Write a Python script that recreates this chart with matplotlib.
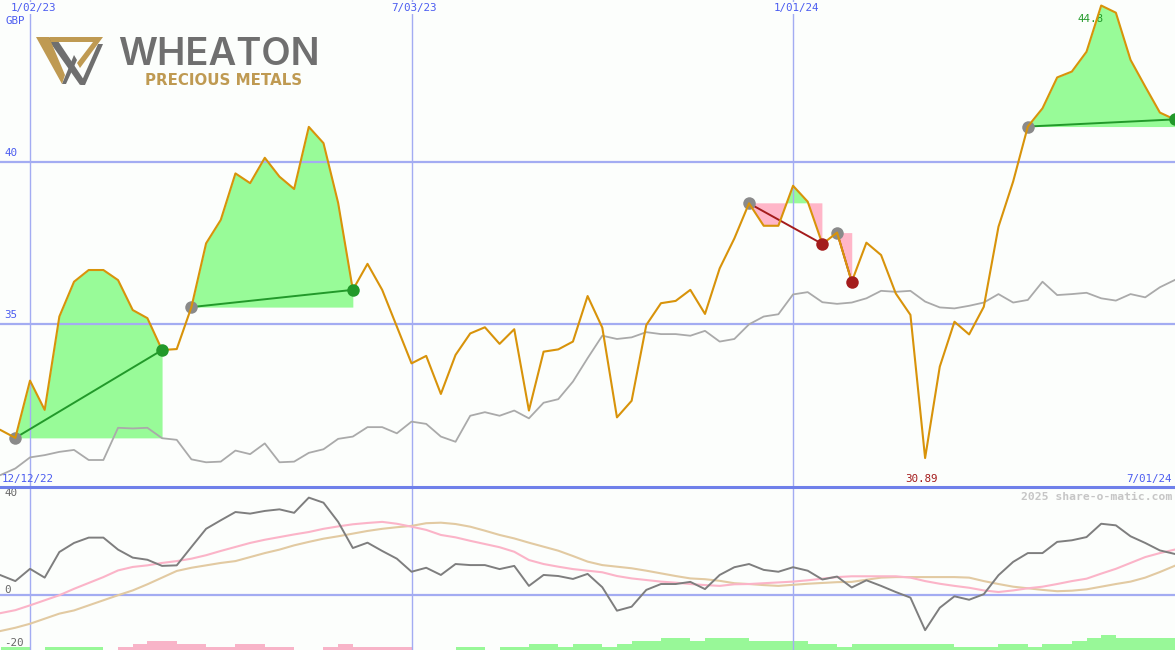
import numpy as np
import matplotlib.pyplot as plt
from matplotlib.patches import Polygon
from matplotlib.transforms import Affine2D

# -----------------------------------------------------------------------------
# data (weekly, week 0 = 1/02/23)
# -----------------------------------------------------------------------------
weeks = np.arange(-2, 79)

price = [31.75, 31.51, 33.27, 32.37, 35.24, 36.31, 36.67, 36.67, 36.36, 35.44,
         35.19, 34.21, 34.24, 35.53, 37.49, 38.21, 39.64, 39.34, 40.12, 39.54,
         39.16, 41.07, 40.57, 38.73, 36.06, 36.86, 36.06, 34.93, 33.80, 34.03,
         32.86, 34.06, 34.72, 34.91, 34.40, 34.85, 32.35, 34.16, 34.23, 34.47,
         35.87, 34.90, 32.14, 32.65, 34.98, 35.65, 35.72, 36.06, 35.32, 36.72,
         37.64, 38.72, 38.03, 38.03, 39.26, 38.77, 37.47, 37.82, 36.31, 37.51,
         37.13, 35.95, 35.29, 30.89, 33.70, 35.08, 34.69, 35.54, 38.00, 39.39,
         41.08, 41.64, 42.59, 42.77, 43.38, 44.80, 44.58, 43.13, 42.31, 41.51,
         41.30]

avg = [30.37, 30.57, 30.91, 30.98, 31.08, 31.14, 30.83, 30.83, 31.82, 31.80,
       31.82, 31.50, 31.45, 30.85, 30.76, 30.78, 31.12, 31.01, 31.34, 30.76,
       30.78, 31.05, 31.16, 31.48, 31.55, 31.84, 31.84, 31.65, 32.01, 31.94,
       31.55, 31.39, 32.19, 32.30, 32.19, 32.35, 32.11, 32.59, 32.70, 33.24,
       33.96, 34.65, 34.55, 34.60, 34.76, 34.70, 34.70, 34.65, 34.80, 34.47,
       34.55, 35.00, 35.24, 35.31, 35.92, 35.99, 35.68, 35.63, 35.67, 35.80,
       36.03, 36.00, 36.03, 35.70, 35.52, 35.49, 35.57, 35.67, 35.93, 35.67,
       35.75, 36.31, 35.90, 35.93, 35.97, 35.80, 35.73, 35.93, 35.83, 36.14,
       36.36]

momentum = [7.3, 5.1, 9.7, 6.4, 16.0, 19.4, 21.4, 21.4, 16.9, 13.9,
            13.1, 10.8, 11.0, 17.9, 24.7, 27.9, 31.0, 30.4, 31.4, 32.0,
            30.7, 36.4, 34.5, 27.3, 17.5, 19.5, 16.4, 13.5, 8.6, 10.1,
            7.4, 11.5, 11.1, 11.1, 9.6, 10.8, 3.3, 7.4, 7.0, 5.9,
            7.8, 2.8, -6.0, -4.5, 1.8, 4.0, 4.0, 4.8, 2.1, 7.4,
            10.3, 11.5, 9.3, 8.6, 10.3, 9.0, 5.7, 6.8, 2.7, 5.4,
            3.3, 1.0, -1.1, -13.3, -4.9, -0.6, -1.9, 0.2, 7.3, 12.3,
            15.6, 15.6, 19.8, 20.4, 21.6, 26.6, 26.0, 21.9, 19.4, 16.6,
            15.3]

sig_fast = [-6.9, -5.8, -4.0, -2.1, -0.2, 2.2, 4.4, 6.6, 9.1, 10.4,
            11.0, 11.9, 12.6, 13.5, 14.8, 16.4, 17.9, 19.4, 20.6, 21.6,
            22.6, 23.5, 24.7, 25.6, 26.4, 26.9, 27.3, 26.6, 25.5, 24.3,
            22.4, 21.5, 20.2, 19.0, 17.8, 16.1, 13.0, 11.5, 10.5, 9.6,
            9.0, 8.4, 7.0, 6.1, 5.5, 4.9, 4.5, 4.0, 3.6, 3.3,
            3.9, 4.0, 4.3, 4.6, 4.9, 5.4, 6.0, 6.6, 6.9, 6.9,
            6.9, 6.9, 6.4, 5.1, 4.1, 3.3, 2.6, 1.6, 1.0, 1.6,
            2.4, 3.0, 4.0, 5.1, 6.0, 7.9, 9.7, 11.9, 14.1, 15.6,
            16.9]

sig_slow = [-13.6, -12.4, -10.9, -9.0, -7.1, -5.9, -4.0, -2.1, -0.2, 1.6,
            3.9, 6.4, 8.9, 10.1, 11.0, 11.9, 12.6, 14.1, 15.6, 16.9,
            18.5, 19.8, 21.0, 21.9, 22.9, 23.9, 24.7, 25.3, 25.8, 26.8,
            27.0, 26.5, 25.5, 24.0, 22.4, 21.1, 19.5, 18.0, 16.5, 14.5,
            12.4, 11.1, 10.5, 9.9, 9.0, 8.0, 7.0, 6.1, 5.8, 5.2,
            4.3, 4.0, 3.6, 3.3, 3.7, 4.1, 4.4, 4.7, 4.8, 5.6,
            6.4, 6.6, 6.6, 6.6, 6.6, 6.6, 6.4, 5.1, 4.0, 3.0,
            2.4, 1.8, 1.3, 1.5, 2.0, 3.0, 4.0, 4.9, 6.4, 8.5,
            10.8]

# signed strength bars: + green, - pink
strength = [1, 1, 0, 1, 1, 1, 1, 0, -1, -2,
            -3, -3, -2, -2, -1, -1, -2, -2, -1, -1,
            0, 0, -1, -2, -1, -1, -1, -1, 0, 0,
            0, 1, 1, 0, 1, 1, 2, 2, 1, 2,
            2, 1, 2, 3, 3, 4, 4, 3, 4, 4,
            4, 3, 3, 3, 3, 2, 2, 1, 2, 2,
            2, 2, 2, 2, 2, 1, 1, 1, 2, 2,
            1, 2, 2, 3, 4, 5, 4, 4, 4, 4,
            4]

trade_start = [-1, 11, 49, 55, 68]
trade_end = [9, 22, 54, 56, 78]

grid_weeks = [0, 26, 52]
grid_dates = ["1/02/23", "7/03/23", "1/01/24"]
price_levels = [40, 35]
osc_levels = [40, 0, -20]
first_date, last_date = "12/12/22", "7/01/24"
currency = "GBP"

# -----------------------------------------------------------------------------
# style
# -----------------------------------------------------------------------------
W, H = 1175, 650
SPLIT = 487                      # pixel row of the panel separator
BG = "#fcfefc"
GRID = "#a3acf2"
SEP = "#6f80ea"
BLUE = "#4b5cf0"
ORANGE = "#d8930a"
FILL_UP = "#98fb98"
FILL_DN = "#ffb6c8"
WIN = "#22992a"
LOSS = "#a41c1c"
MONO = "DejaVu Sans Mono"
FS = 7.8
BAR_UNIT = 1.125

price = np.array(price)
weeks_list = list(weeks)

fig = plt.figure(figsize=(W / 100, H / 100), dpi=100, facecolor=BG)
ax = fig.add_axes([0, (H - SPLIT) / H, 1, SPLIT / H], facecolor=BG)
ax2 = fig.add_axes([0, 0, 1, (H - SPLIT) / H], facecolor=BG)
for a in (ax, ax2):
    a.set_xlim(-2.045, 78.03)
    a.set_xticks([])
    a.set_yticks([])
    for s in a.spines.values():
        s.set_visible(False)
    for w in grid_weeks:
        a.axvline(w, color=GRID, lw=1.0, zorder=1.5)

ax.set_ylim(30.0, 44.97)
ax2.set_ylim(-20.74, 40.38)

# ---- price panel ------------------------------------------------------------
for lv in price_levels:
    ax.axhline(lv, color=GRID, lw=1.6, zorder=1.5)
    ax.text(-1.75, lv + 0.12, str(lv), color=BLUE, fontsize=FS,
            family=MONO, va="bottom", ha="left")

for s, e in zip(trade_start, trade_end):
    i0, i1 = weeks_list.index(s), weeks_list.index(e)
    xs, ys = weeks[i0:i1 + 1], price[i0:i1 + 1]
    base = price[i0]
    ax.fill_between(xs, ys, base, where=ys >= base, interpolate=True,
                    color=FILL_UP, lw=0, zorder=1)
    ax.fill_between(xs, ys, base, where=ys <= base, interpolate=True,
                    color=FILL_DN, lw=0, zorder=1)
    c = WIN if price[i1] > base else LOSS
    ax.plot([s, e], [base, price[i1]], color=c, lw=1.4, zorder=2.5)
    ax.plot(s, base, "o", color="#8a8a8a", ms=9, mew=0, zorder=2.6)
    ax.plot(e, price[i1], "o", color=c, ms=9, mew=0, zorder=4)

ax.plot(weeks, avg, color="#aaaaaa", lw=1.3, zorder=2)
ax.plot(weeks, price, color=ORANGE, lw=1.5, zorder=3)

imax, imin = int(np.argmax(price)), int(np.argmin(price))
ax.text(weeks[imax] - 0.75, price[imax] - 0.42, f"{price[imax]:g}",
        color=WIN, fontsize=FS, family=MONO, ha="center", va="center",
        zorder=2.8)
ax.text(weeks[imin] - 0.25, 30.25, f"{price[imin]:g}", color=LOSS,
        fontsize=FS, family=MONO, ha="center", va="center")

xt = ax.get_xaxis_transform()
for w, lab in zip(grid_weeks, grid_dates):
    ax.text(w + 0.2, 1 - 8 / SPLIT, lab, transform=xt, color=BLUE,
            fontsize=FS, family=MONO, ha="center", va="center", zorder=5,
            bbox=dict(boxstyle="square,pad=0.1", fc=BG, ec="none"))
ax.text(5 / W, 1 - 21 / SPLIT, currency, transform=ax.transAxes, color=BLUE,
        fontsize=FS, family=MONO, ha="left", va="center", zorder=6)
ax.text(2 / W, 1 - 479 / SPLIT, first_date, transform=ax.transAxes,
        color=BLUE, fontsize=FS, family=MONO, ha="left", va="center")
ax.text(1 - 3 / W, 1 - 479 / SPLIT, last_date, transform=ax.transAxes,
        color=BLUE, fontsize=FS, family=MONO, ha="right", va="center")

# ---- oscillator panel -------------------------------------------------------
ax2.axhline(0, color=GRID, lw=1.6, zorder=1.5)
ymin = ax2.get_ylim()[0]
st = np.array(strength)
ax2.bar(weeks, np.abs(st) * BAR_UNIT, width=1.0, align="edge", bottom=ymin,
        color=np.where(st > 0, "#98f898", "#f8b4c8"), lw=0, zorder=1)
ax2.plot(weeks, sig_slow, color="#e2caa2", lw=1.5, zorder=2)
ax2.plot(weeks, sig_fast, color="#fbb4c8", lw=1.5, zorder=2.1)
ax2.plot(weeks, momentum, color="#7e7e7e", lw=1.4, zorder=2.2)

for lv in osc_levels:
    ax2.text(-1.75, lv, str(lv), color="#666666", fontsize=FS, family=MONO,
             ha="left", va="top" if lv == max(osc_levels) else "bottom")
ax2.text(1 - 3 / W, 1 - 10 / (H - SPLIT), "2025 share-o-matic.com",
         transform=ax2.transAxes, color="#c6c6c6", fontsize=8.2,
         family=MONO, weight="bold", ha="right", va="center")

fig.add_artist(plt.Line2D([0, 1], [(H - SPLIT) / H] * 2,
                          transform=fig.transFigure, color=SEP, lw=2.2))

# ---- logo -------------------------------------------------------------------
px = Affine2D().scale(1 / W, -1 / H).translate(0, 1) + fig.transFigure
gold, grey = "#bf9a52", "#6f6f6f"
for pts, c in [
    ([(47, 38), (56, 38), (84, 80), (80, 85)], grey),
    ([(62, 84), (66, 84), (77, 60), (74, 55)], grey),
    ([(80, 85), (85, 85), (103, 44), (98, 44)], grey),
    ([(36, 37), (49, 37), (65, 75), (62, 84)], gold),
    ([(49, 37), (103, 37), (80, 68), (77, 63), (93, 42), (51, 42)], gold),
]:
    fig.add_artist(Polygon(pts, closed=True, fc=c, ec="none", transform=px))
fig.text(118, 65, "WHEATON", transform=px, color=grey, fontsize=27.5,
         family="Inter", weight="semibold", ha="left", va="baseline")
fig.text(145, 85, "PRECIOUS METALS", transform=px, color=gold, fontsize=10.8,
         family="DejaVu Sans", weight="bold", ha="left", va="baseline")

fig.savefig("out.png", dpi=100, facecolor=BG)
